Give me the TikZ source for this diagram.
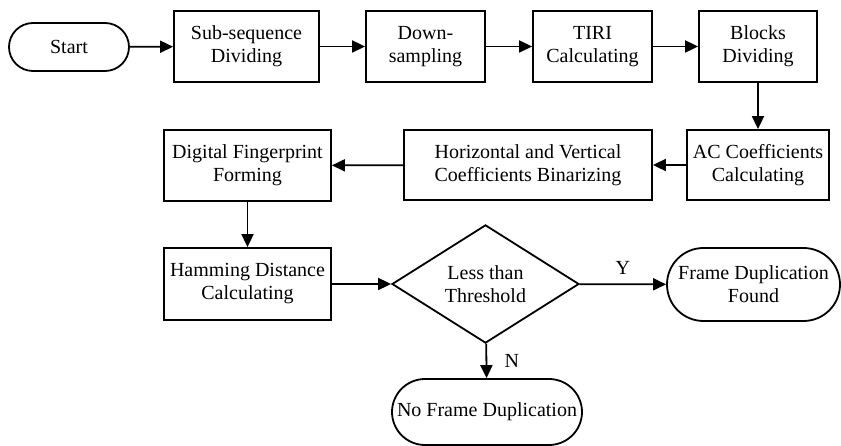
\documentclass[tikz,border=0pt]{standalone}
\usepackage{fontspec}
\setmainfont{Liberation Serif}
\newfontfamily\flowfont{Liberation Serif}
\usetikzlibrary{arrows.meta,positioning}
\usetikzlibrary{shapes.geometric,shapes.misc}
\tikzset{
  stepbox/.style={
    rectangle,
    draw=black,
    line width=1.8pt,
    inner sep=0pt,
    minimum height=71pt,
    align=center,
    font=\flowfont\fontsize{20}{23}\selectfont
  },
  termbox/.style={
    stepbox,
    rounded rectangle
  },
  decbox/.style={
    stepbox,
    diamond,
    minimum width=187pt,
    minimum height=94pt
  },
  arr/.style={
    line width=1.8pt,
    -{Triangle[length=13pt,width=12pt]}
  }
}

\begin{document}
\begin{tikzpicture}[x=1pt,y=-1pt]
\useasboundingbox (0,0) rectangle (841,446);

% first row
\node[termbox, minimum width=120pt, minimum height=48pt] (start) at (69,47) {Start};
\node[stepbox, minimum width=145pt] (subseq) at (246.5,46.5) {Sub-sequence\\Dividing};
\node[stepbox, minimum width=119pt] (downs) at (425.5,46.5) {Down-\\sampling};
\node[stepbox, minimum width=119pt] (tiri) at (592.5,46.5) {TIRI\\Calculating};
\node[stepbox, minimum width=118pt] (blocks) at (758,46.5) {Blocks\\Dividing};

% second row
\node[stepbox, minimum width=142pt, minimum height=70pt] (accoef) at (758,165) {AC Coefficients\\Calculating};
\node[stepbox, minimum width=248pt, minimum height=70pt] (binar) at (528,165) {Horizontal and Vertical\\Coefficients Binarizing};
\node[stepbox, minimum width=167pt] (finger) at (247.5,165.5) {Digital Fingerprint\\Forming};

% decision
\node[stepbox, minimum width=167pt, minimum height=72pt] (hamming) at (247.5,284) {Hamming Distance\\Calculating};
\node[decbox] (thresh) at (485.5,284) {Less than\\Threshold};
\node[termbox, minimum width=173pt, minimum height=73pt] (found) at (753.5,284.5) {Frame Duplication\\Found};
\node[termbox, minimum width=190pt, minimum height=66pt] (nofound) at (487,412) {No Frame Duplication};

\draw[arr] (start) -- (subseq);
\draw[arr] (subseq) -- (downs);
\draw[arr] (downs) -- (tiri);
\draw[arr] (tiri) -- (blocks);
\draw[arr] (blocks) -- (accoef);
\draw[arr] (accoef) -- (binar);
\draw[arr] (binar) -- (finger);
\draw[arr] (finger) -- (hamming);
\draw[arr] (hamming) -- (thresh);
\draw[arr] (thresh) -- node[above=6pt, font=\flowfont\fontsize{20}{23}\selectfont] {Y} (found);
\draw[arr] (thresh) -- node[right=14pt, font=\flowfont\fontsize{20}{23}\selectfont] {N} (nofound);
\end{tikzpicture}
\end{document}
